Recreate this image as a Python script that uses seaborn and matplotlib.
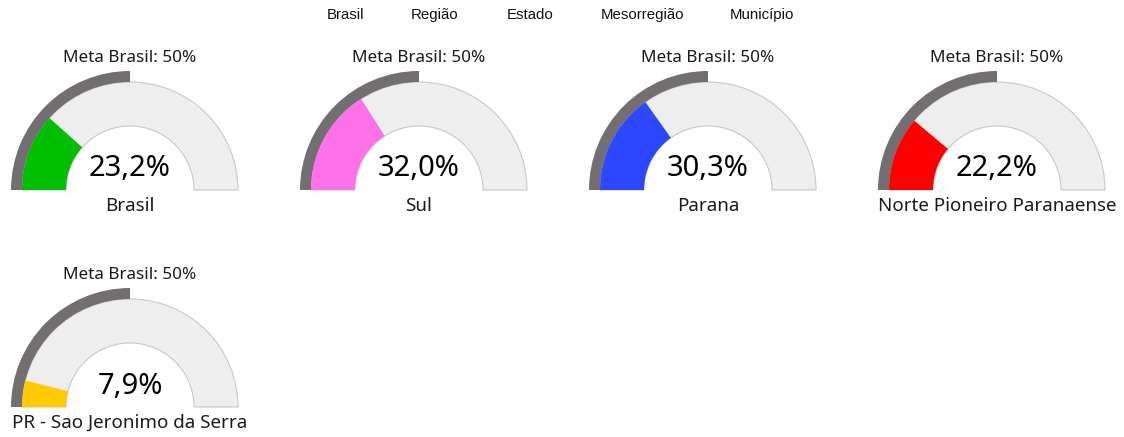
import seaborn as sns
import matplotlib.pyplot as plt
from matplotlib.patches import Wedge

# dados
locais = ["Brasil", "Sul", "Parana", "Norte Pioneiro Paranaense", "PR - Sao Jeronimo da Serra"]
valores = [23.2, 32.0, 30.3, 22.2, 7.9]
cores = ["#00BE00", "#FF71E8", "#2D48FF", "#FF0000", "#FFCA00"]
meta = 50
legenda = ["Brasil", "Região", "Estado", "Mesorregião", "Município"]

sns.set_theme(style="white")
plt.rcParams['font.family'] = ['Noto Sans', 'DejaVu Sans']

W, H = 1124, 437
fig = plt.figure(figsize=(W / 100, H / 100), dpi=100)

R = 108.0          # raio externo em px
R_IN = 64.0 / R
R_META = 119.0 / R
centros = [(130, 190), (419, 190), (708, 190), (997, 190), (130, 407)]


def gauge(cx, cy, valor, cor, nome):
    left, right = cx - 140, cx + 140
    top, bottom = cy - 150, cy + 30
    ax = fig.add_axes([left / W, 1 - bottom / H, (right - left) / W, (bottom - top) / H])
    ax.set_xlim(-140 / R, 140 / R)
    ax.set_ylim(-30 / R, 150 / R)
    ax.set_axis_off()
    # fundo
    ax.add_patch(Wedge((0, 0), 1, 0, 180, width=1 - R_IN, facecolor="#EEEEEE",
                       edgecolor="#C8C8C8", linewidth=0.8))
    # meta
    ang_meta = 180 - meta / 100 * 180
    ax.add_patch(Wedge((0, 0), R_META, ang_meta, 180, width=R_META - 1,
                       facecolor="#736E71", edgecolor="none"))
    # valor
    ang = 180 - valor / 100 * 180
    ax.add_patch(Wedge((0, 0), 1, ang, 180, width=1 - R_IN, facecolor=cor, edgecolor="none"))
    ax.text(0, 21 / R, f"{valor:.1f}%".replace(".", ","), ha="center", va="center",
            fontsize=21, color="black")
    ax.text(0, -16 / R, nome, ha="center", va="center", fontsize=13.5, color="#1a1a1a",
            clip_on=False)
    ax.text(0, 132 / R, f"Meta Brasil: {meta}%", ha="center", va="center", fontsize=12.3,
            color="#1a1a1a", clip_on=False)


for (cx, cy), v, c, n in zip(centros, valores, cores, locais):
    gauge(cx, cy, v, c, n)

xs_leg = [346, 435, 530, 642, 762]
for x, t in zip(xs_leg, legenda):
    fig.text(x / W, 1 - 15 / H, t, ha="center", va="center", fontsize=10.8,
             family=["Liberation Sans", "DejaVu Sans"], color="#111111")

fig.savefig("out.png", dpi=100)
